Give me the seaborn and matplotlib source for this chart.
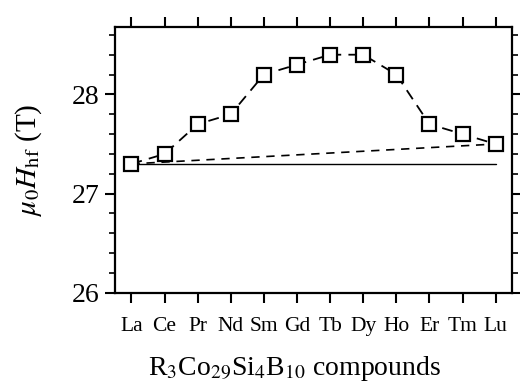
import matplotlib
matplotlib.use("Agg")
import matplotlib.pyplot as plt
import seaborn as sns
import pandas as pd
from matplotlib.ticker import MultipleLocator

compounds = ["La", "Ce", "Pr", "Nd", "Sm", "Gd", "Tb", "Dy", "Ho", "Er", "Tm", "Lu"]
hhf = [27.3, 27.4, 27.7, 27.8, 28.2, 28.3, 28.4, 28.4, 28.2, 27.7, 27.6, 27.5]
solid_ref = [27.3, 27.3]
dashed_ref = [27.3, 27.5]

sns.set_theme(style="ticks")
plt.rcParams['font.family'] = ['Liberation Serif', 'DejaVu Serif']
plt.rcParams['mathtext.fontset'] = 'stix'
plt.rcParams['text.color'] = 'black'
plt.rcParams['axes.labelcolor'] = 'black'
plt.rcParams['xtick.color'] = 'black'
plt.rcParams['ytick.color'] = 'black'

df = pd.DataFrame({"x": range(len(compounds)), "y": hhf})

fig = plt.figure(figsize=(5.2, 3.9), dpi=100)
ax = fig.add_axes([0.221, 0.249, 0.764, 0.682])

ends = [0, len(compounds) - 1]
sns.lineplot(x=ends, y=solid_ref, ax=ax, color="black", linewidth=1.0, linestyle="-")
sns.lineplot(x=ends, y=dashed_ref, ax=ax, color="black", linewidth=1.2, linestyle=(0, (5, 4)))
sns.lineplot(data=df, x="x", y="y", ax=ax, color="black", linewidth=1.3,
             linestyle=(0, (6, 4)), marker="s", markersize=10,
             markerfacecolor="white", markeredgecolor="black", markeredgewidth=1.6)

ax.set_xlim(-0.5, len(compounds) - 0.5)
ax.set_ylim(26, 28.68)
ax.set_xticks(range(len(compounds)))
ax.set_xticklabels(compounds, fontsize=15.5)
ax.yaxis.set_major_locator(MultipleLocator(1))
ax.yaxis.set_minor_locator(MultipleLocator(0.2))
ax.tick_params(axis="y", which="major", labelsize=20, direction="out", length=7, width=1.5,
               left=True, right=True, pad=4)
ax.tick_params(axis="y", which="minor", direction="out", length=4, width=1.2, left=True, right=True)
ax.tick_params(axis="x", which="major", direction="out", length=7, width=1.5, top=True, bottom=True,
               pad=10)
for s in ax.spines.values():
    s.set_linewidth(1.6)
    s.set_color("black")

ax.set_ylabel(r"$\mu_0H_{\rm hf}$ (T)", fontsize=21, labelpad=20)
ax.set_xlabel(r"R$_3$Co$_{29}$Si$_4$B$_{10}$ compounds", fontsize=20)
ax.xaxis.set_label_coords(0.453, -0.23)

fig.savefig("out.png", dpi=100)
